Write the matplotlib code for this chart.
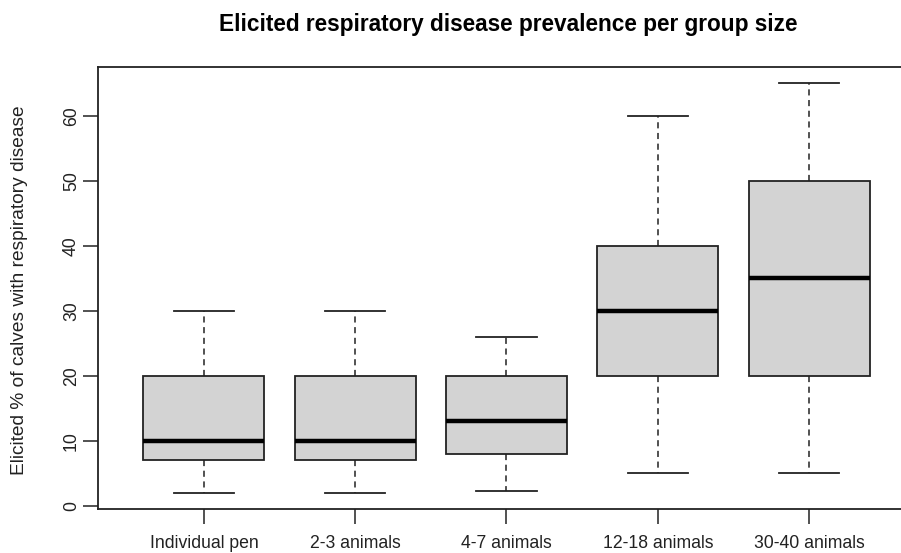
import matplotlib
matplotlib.use("Agg")
import matplotlib.pyplot as plt

plt.rcParams['font.family'] = ['Liberation Sans', 'DejaVu Sans']

categories = ["Individual pen", "2-3 animals", "4-7 animals", "12-18 animals", "30-40 animals"]
whisker_low = [2, 2, 2.2, 5, 5]
q1 = [7, 7, 8, 20, 20]
median = [10, 10, 13, 30, 35]
q3 = [20, 20, 20, 40, 50]
whisker_high = [30, 30, 26, 60, 65]
yticks = [0, 10, 20, 30, 40, 50, 60]

stats = []
for i, c in enumerate(categories):
    stats.append(dict(label=c, whislo=whisker_low[i], q1=q1[i], med=median[i],
                      q3=q3[i], whishi=whisker_high[i], fliers=[]))

fig = plt.figure(figsize=(9.01, 5.53), dpi=100)
W, H = 901, 553
left, right, top, bottom = 98, 915, 67, 509
ax = fig.add_axes([left / W, 1 - bottom / H, (right - left) / W, (bottom - top) / H])

ax.bxp(stats, positions=range(1, 6), widths=0.8, patch_artist=True,
       boxprops=dict(facecolor='#d3d3d3', edgecolor='#222222', linewidth=1.3),
       medianprops=dict(color='black', linewidth=3.2, solid_capstyle='butt'),
       whiskerprops=dict(color='#222222', linewidth=1.1, linestyle=(0, (4, 3))),
       capprops=dict(color='#222222', linewidth=1.3),
       capwidths=0.4, showfliers=False)

ax.set_xlim(0.3, 5.7)
ax.set_ylim(-0.52, 67.52)
ax.set_yticks(yticks)
ax.set_yticklabels([str(v) for v in yticks], rotation=90, va='center')
ax.set_xticks(range(1, 6))
ax.set_xticklabels(categories)
ax.tick_params(axis='both', length=11, width=1.1, color='#222222', labelsize=12.7, labelcolor='#222222')
ax.tick_params(axis='x', pad=7.5)
ax.tick_params(axis='y', pad=2)
for s in ax.spines.values():
    s.set_linewidth(1.3)
    s.set_color('#222222')

fig.text(20 / W, 1 - 290 / H, "Elicited % of calves with respiratory disease", rotation=90,
         ha='center', va='center', fontsize=13.8, color='#222222')
fig.text(508 / W, 1 - 25 / H, "Elicited respiratory disease prevalence per group size",
         ha='center', va='center', fontsize=16.3, fontweight='bold')

fig.savefig("out.png", dpi=100)
